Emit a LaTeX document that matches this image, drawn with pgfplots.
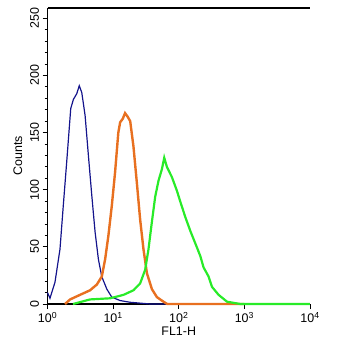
\documentclass[border=0pt]{standalone}
\usepackage{fontspec}
\setmainfont{Liberation Sans}
\usepackage{pgfplots}
\pgfplotsset{compat=1.18}
\definecolor{cblue}{RGB}{20,20,140}
\definecolor{corange}{RGB}{232,112,32}
\definecolor{cgreen}{RGB}{40,235,40}
\begin{document}
\begin{tikzpicture}
\begin{axis}[
  scale only axis,
  width=262.5bp, height=296bp,
  xmode=log, log basis x=10,
  xmin=1, xmax=10000,
  ymin=0, ymax=259,
  axis x line*=bottom, axis y line*=left,
  axis line style={line width=1.2pt},
  xtick={1,10,100,1000,10000},
  xticklabels={10\textsuperscript{0},10\textsuperscript{1},10\textsuperscript{2},10\textsuperscript{3},10\textsuperscript{4}},
  ytick={0,50,100,150,200,250},
  minor y tick num=4,
  tick align=outside,
  major tick length=5bp, minor tick length=3bp,
  tick style={line width=0.8pt, black},
  yticklabel style={rotate=90, anchor=south},
  /pgf/number format/assume math mode=true,
  tick label style={font=\fontsize{12.5}{13}\selectfont},
  label style={font=\fontsize{12.5}{13}\selectfont},
  xlabel={FL1-H}, ylabel={Counts},
  xlabel style={yshift=3bp},
  ylabel style={yshift=1bp},
  clip=false,
]
\addplot[cblue, line width=1.2pt] coordinates {
(1.0,10)(1.09,5)(1.30,19)(1.55,48)(1.74,86)(1.96,124)(2.26,171)(2.48,179)(2.79,184)(3.05,191)(3.33,185)(3.74,165)(4.20,130)(4.73,95)(5.31,63)(5.97,39)(6.71,24)(8.02,13)(9.55,6)(12.8,3)(18.2,1.5)(36.7,0)(100,0)};
\addplot[corange, line width=2.4pt] coordinates {
(1.85,0)(2.21,4)(3.13,8)(4.45,12)(5.64,17)(6.72,24)(7.55,39)(8.48,60)(9.55,86)(10.7,115)(12.0,150)(12.8,159)(14.0,162)(15.2,167)(16.6,164)(18.2,160)(20.4,138)(23.0,106)(25.8,74)(29.0,48)(32.7,27)(39.0,13)(46.5,6)(58.6,2)(66.7,0)(1000,0)};
\addplot[cgreen, line width=2.2pt] coordinates {
(2.45,0)(4.45,4)(9.0,5)(14.4,8)(20.4,12)(25.8,18)(30.8,30)(34.6,48)(39.0,72)(43.8,94)(49.2,108)(55.4,118)(60.1,128)(66.0,120)(78.7,111)(93.9,99)(105,90)(126,76)(150,64)(179,53)(213,42)(239,32)(285,24)(321,15)(405,8)(544,2)(869,0)(10000,0)};
\draw[line width=1.2pt] (rel axis cs:0,1) -- (rel axis cs:1,1);
\end{axis}
\pgfresetboundingbox
\path[use as bounding box] (-47.5bp,-46bp) rectangle (293.5bp,304bp);
\end{tikzpicture}
\end{document}
